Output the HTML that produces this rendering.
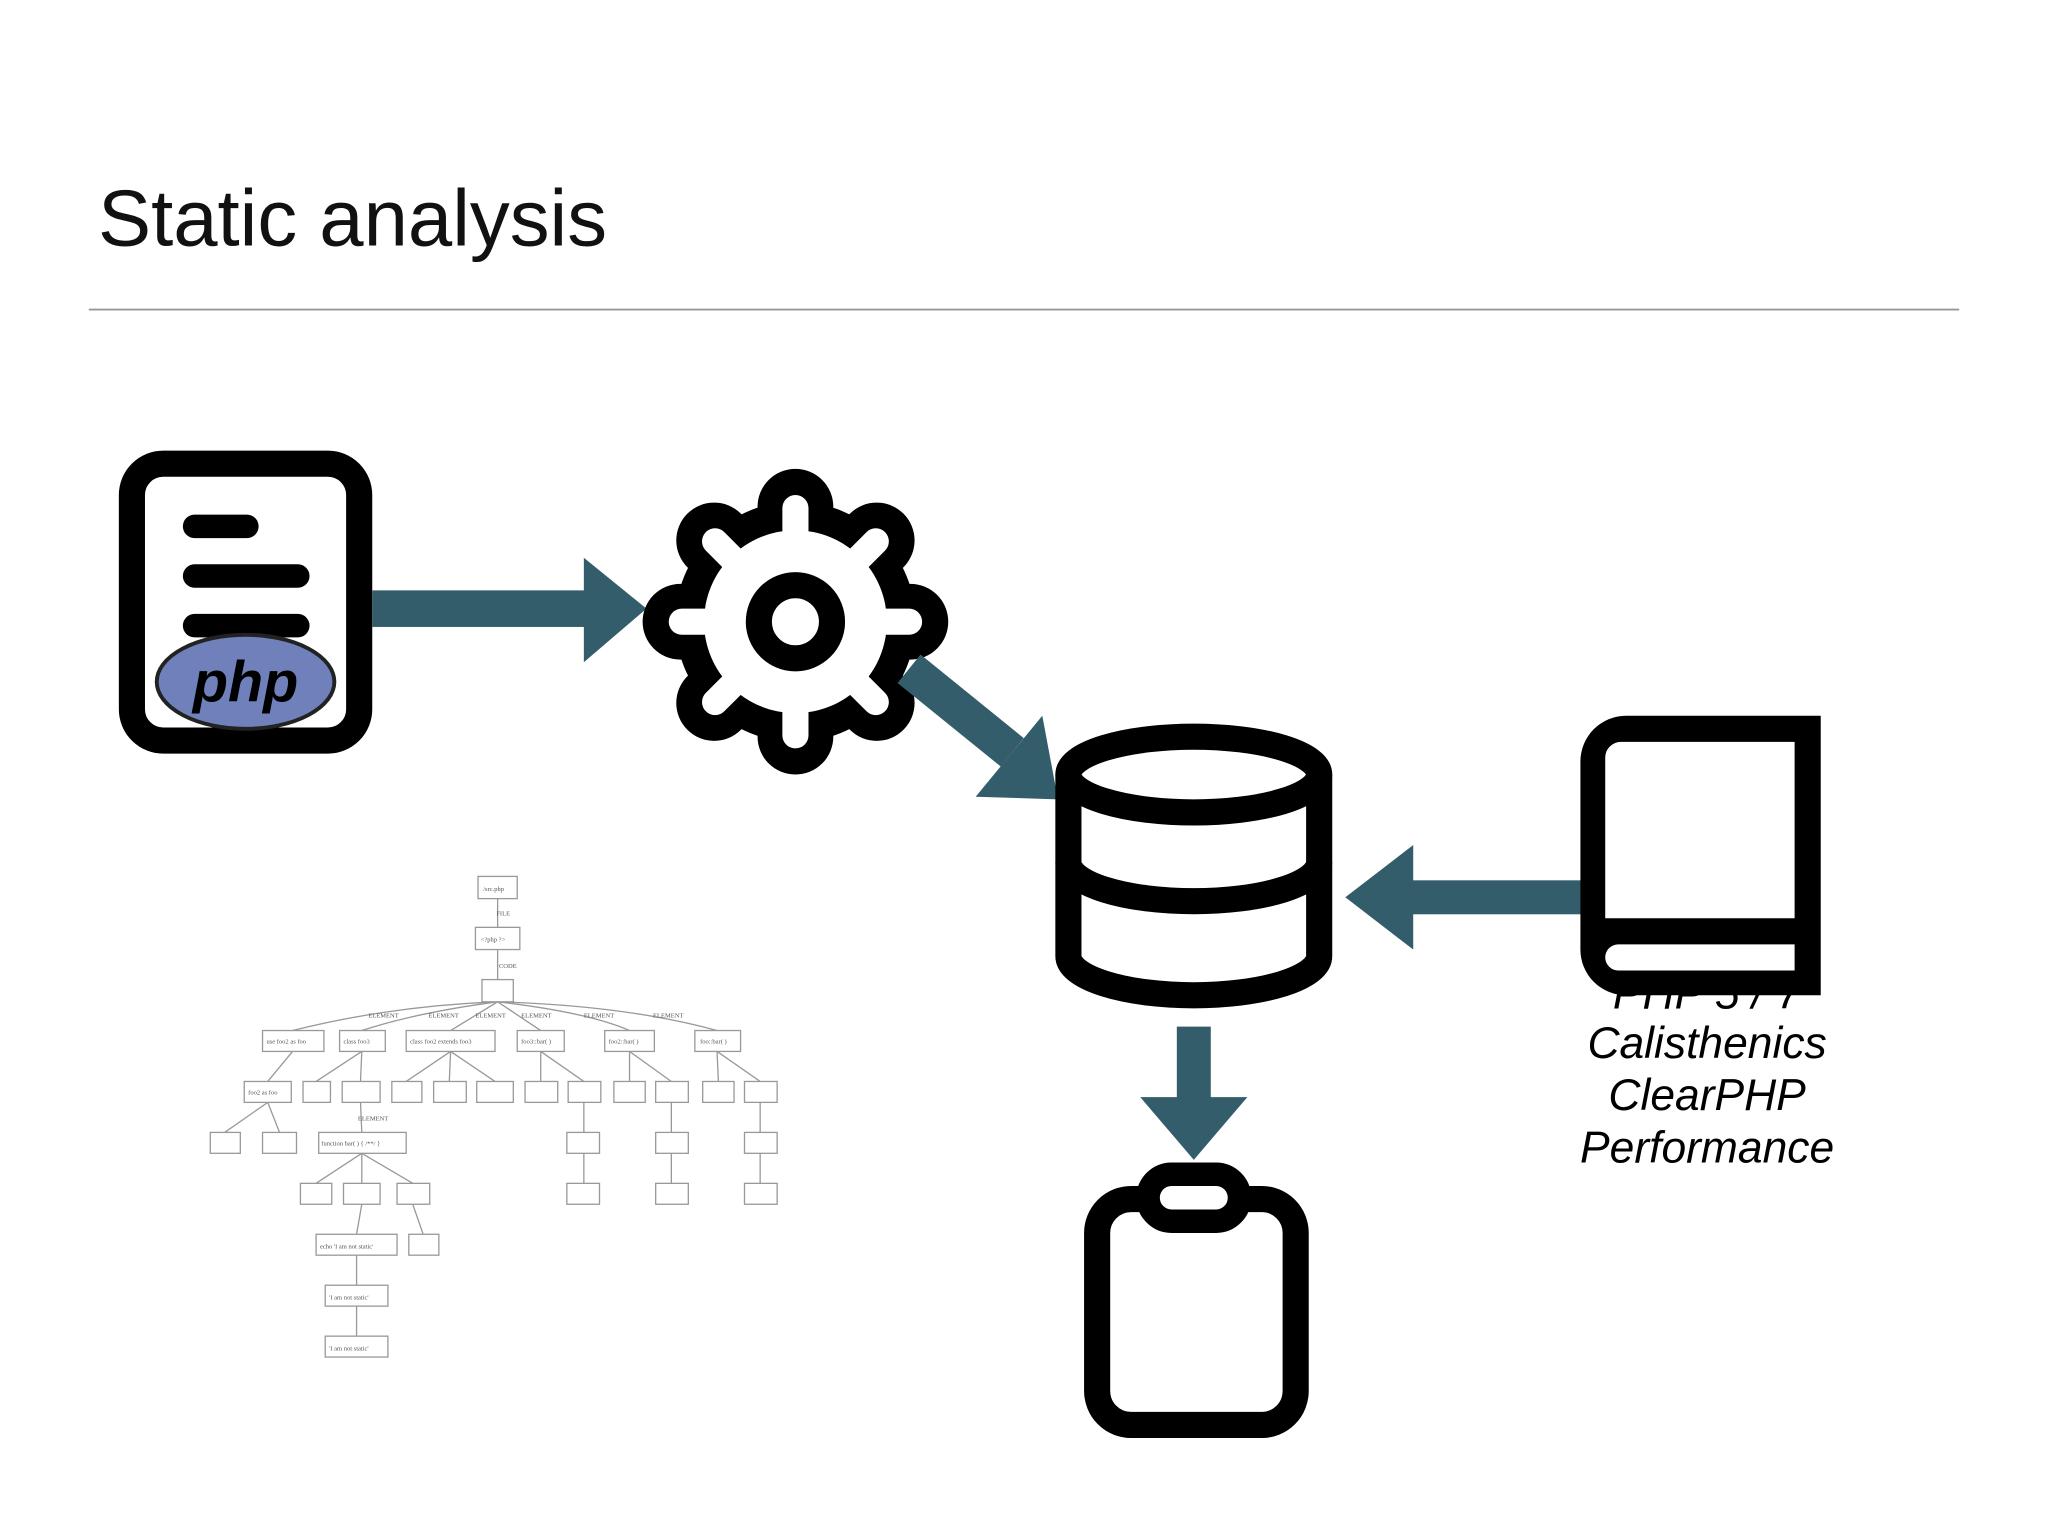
<!DOCTYPE html>
<html><head><meta charset="utf-8"><style>
html,body{margin:0;padding:0;background:#fff;}
svg{display:block;}
</style></head><body>
<svg width="2048" height="1536" viewBox="0 0 1568 1176" xmlns="http://www.w3.org/2000/svg">
<rect width="1568" height="1176" fill="#fff"/>
<text x="75" y="188" font-family="Liberation Sans, sans-serif" font-size="61" fill="#111">Static analysis</text>
<line x1="68" y1="237" x2="1500" y2="237" stroke="#999" stroke-width="1.5"/>

<!-- doc icon -->
<rect x="101" y="355" width="174" height="212" rx="24" fill="#fff" stroke="#000" stroke-width="20"/>
<line x1="149" y1="403" x2="189" y2="403" stroke="#000" stroke-width="18" stroke-linecap="round"/>
<line x1="149" y1="441" x2="228" y2="441" stroke="#000" stroke-width="18" stroke-linecap="round"/>
<line x1="149" y1="479" x2="228" y2="479" stroke="#000" stroke-width="18" stroke-linecap="round"/>
<ellipse cx="188" cy="522" rx="68" ry="36" fill="#6f80ba" stroke="#222" stroke-width="3"/>
<text x="188" y="537" text-anchor="middle" font-family="Liberation Sans, sans-serif" font-size="44" font-weight="bold" font-style="italic" fill="#000">php</text>

<!-- arrow 1 -->
<rect x="285" y="452" width="164" height="28" fill="#335d6a"/>
<polygon points="447,427 447,507 495,466" fill="#335d6a"/>

<!-- gear -->
<g transform="translate(609,476)">
  <g fill="#000">
    <circle r="92"/>
    <g id="teeth">
      <rect x="-29" y="-117" width="58" height="60" rx="29"/>
    </g>
    <use href="#teeth" transform="rotate(45)"/>
    <use href="#teeth" transform="rotate(90)"/>
    <use href="#teeth" transform="rotate(135)"/>
    <use href="#teeth" transform="rotate(180)"/>
    <use href="#teeth" transform="rotate(225)"/>
    <use href="#teeth" transform="rotate(270)"/>
    <use href="#teeth" transform="rotate(315)"/>
  </g>
  <g fill="#fff">
    <circle r="70"/>
    <g id="wt"><rect x="-10" y="-97" width="20" height="40" rx="10"/></g>
    <use href="#wt" transform="rotate(45)"/>
    <use href="#wt" transform="rotate(90)"/>
    <use href="#wt" transform="rotate(135)"/>
    <use href="#wt" transform="rotate(180)"/>
    <use href="#wt" transform="rotate(225)"/>
    <use href="#wt" transform="rotate(270)"/>
    <use href="#wt" transform="rotate(315)"/>
  </g>
  <circle r="28" fill="#fff" stroke="#000" stroke-width="20"/>
</g>

<!-- arrow 2 -->
<line x1="696" y1="512" x2="775" y2="576" stroke="#335d6a" stroke-width="28"/>
<polygon points="798,548 747,610 810,612" fill="#335d6a"/>

<!-- database -->
<g fill="none" stroke="#000" stroke-width="20">
  <path d="M818,593 L818,732 A96,30 0 0 0 1010,732 L1010,593" fill="#fff"/>
  <ellipse cx="914" cy="593" rx="96" ry="29" fill="#fff"/>
  <path d="M818,660 A96,30 0 0 0 1010,660"/>
</g>

<!-- arrow 3 -->
<rect x="1080" y="674" width="132" height="26" fill="#335d6a"/>
<polygon points="1030,687 1082,647 1082,727" fill="#335d6a"/>

<!-- book text -->
<g font-family="Liberation Sans, sans-serif" font-size="34" font-style="italic" fill="#000" text-anchor="middle">
  <text x="1307" y="772">PHP 5 / 7</text>
  <text x="1307" y="810">Calisthenics</text>
  <text x="1307" y="850">ClearPHP</text>
  <text x="1307" y="890">Performance</text>
</g>
<!-- book -->
<path d="M1394,548 L1394,762 L1245,762 A35,35 0 0 1 1210,727 L1210,583 A35,35 0 0 1 1245,548 Z" fill="#000"/>
<path d="M1374,568 L1374,703 L1229,703 L1229,580 A12,12 0 0 1 1241,568 Z" fill="#fff"/>
<path d="M1374,723 L1374,743 L1239,743 A10,10 0 0 1 1239,723 Z" fill="#fff"/>

<!-- arrow 4 -->
<rect x="901" y="786" width="26" height="56" fill="#335d6a"/>
<polygon points="873,840 955,840 914,888" fill="#335d6a"/>

<!-- clipboard -->
<rect x="840" y="918" width="152" height="173" rx="26" fill="#fff" stroke="#000" stroke-width="20"/>
<rect x="879" y="899" width="70" height="36" rx="18" fill="#fff" stroke="#000" stroke-width="18"/>

<!-- tree -->
<g stroke="#999" stroke-width="1" fill="none">
  <line x1="381" y1="688" x2="381" y2="710"/>
  <line x1="381" y1="727" x2="381" y2="750"/>
  <path d="M381,767 Q300,770 224,789"/><path d="M381,767 Q320,775 277,789"/>
  <path d="M381,767 L345,789"/><path d="M381,767 L414,789"/>
  <path d="M381,767 Q450,775 482,789"/><path d="M381,767 Q480,770 549,789"/>
  <line x1="224" y1="805" x2="205" y2="828"/>
  <line x1="277" y1="805" x2="242" y2="828"/><line x1="277" y1="805" x2="276" y2="828"/>
  <line x1="345" y1="805" x2="311" y2="828"/><line x1="345" y1="805" x2="344" y2="828"/><line x1="345" y1="805" x2="379" y2="828"/>
  <line x1="414" y1="805" x2="414" y2="828"/><line x1="414" y1="805" x2="447" y2="828"/>
  <line x1="482" y1="805" x2="482" y2="828"/><line x1="482" y1="805" x2="514" y2="828"/>
  <line x1="549" y1="805" x2="550" y2="828"/><line x1="549" y1="805" x2="582" y2="828"/>
  <line x1="205" y1="844" x2="172" y2="867"/><line x1="205" y1="844" x2="214" y2="867"/>
  <line x1="276" y1="844" x2="277" y2="867"/>
  <line x1="447" y1="844" x2="447" y2="867"/><line x1="514" y1="844" x2="514" y2="867"/><line x1="582" y1="844" x2="582" y2="867"/>
  <line x1="277" y1="883" x2="242" y2="906"/><line x1="277" y1="883" x2="277" y2="906"/><line x1="277" y1="883" x2="316" y2="906"/>
  <line x1="447" y1="883" x2="447" y2="906"/><line x1="514" y1="883" x2="514" y2="906"/><line x1="582" y1="883" x2="582" y2="906"/>
  <line x1="277" y1="922" x2="273" y2="945"/><line x1="316" y1="922" x2="324" y2="945"/>
  <line x1="273" y1="961" x2="273" y2="984"/><line x1="273" y1="1000" x2="273" y2="1023"/>
</g>
<g stroke="#999" stroke-width="1" fill="#fff">
  <rect x="366" y="671" width="30" height="17"/><rect x="364" y="710" width="34" height="17"/><rect x="369" y="750" width="24" height="17"/>
  <rect x="201" y="789" width="47" height="16"/><rect x="260" y="789" width="35" height="16"/><rect x="311" y="789" width="68" height="16"/>
  <rect x="396" y="789" width="36" height="16"/><rect x="463" y="789" width="38" height="16"/><rect x="532" y="789" width="35" height="16"/>
  <rect x="187" y="828" width="36" height="16"/><rect x="232" y="828" width="21" height="16"/><rect x="262" y="828" width="29" height="16"/>
  <rect x="300" y="828" width="23" height="16"/><rect x="332" y="828" width="25" height="16"/><rect x="365" y="828" width="28" height="16"/>
  <rect x="402" y="828" width="25" height="16"/><rect x="435" y="828" width="25" height="16"/><rect x="470" y="828" width="24" height="16"/>
  <rect x="502" y="828" width="25" height="16"/><rect x="538" y="828" width="24" height="16"/><rect x="570" y="828" width="25" height="16"/>
  <rect x="161" y="867" width="23" height="16"/><rect x="201" y="867" width="26" height="16"/><rect x="244" y="867" width="67" height="16"/>
  <rect x="434" y="867" width="25" height="16"/><rect x="502" y="867" width="25" height="16"/><rect x="570" y="867" width="25" height="16"/>
  <rect x="230" y="906" width="24" height="16"/><rect x="263" y="906" width="28" height="16"/><rect x="304" y="906" width="25" height="16"/>
  <rect x="434" y="906" width="25" height="16"/><rect x="502" y="906" width="25" height="16"/><rect x="570" y="906" width="25" height="16"/>
  <rect x="242" y="945" width="62" height="16"/><rect x="313" y="945" width="23" height="16"/>
  <rect x="249" y="984" width="48" height="16"/><rect x="249" y="1023" width="48" height="16"/>
</g>
<g font-family="Liberation Serif, serif" font-size="5" fill="#555">
  <text x="370" y="682">/src.php</text><text x="380" y="701">FILE</text><text x="368" y="721">&lt;?php ?&gt;</text><text x="382" y="741">CODE</text>
  <text x="282" y="779">ELEMENT</text><text x="328" y="779">ELEMENT</text><text x="364" y="779">ELEMENT</text><text x="399" y="779">ELEMENT</text><text x="447" y="779">ELEMENT</text><text x="500" y="779">ELEMENT</text>
  <text x="204" y="799">use foo2 as foo</text><text x="263" y="799">class foo3</text><text x="314" y="799">class foo2 extends foo3</text><text x="399" y="799">foo3::bar( )</text><text x="466" y="799">foo2::bar( )</text><text x="536" y="799">foo::bar( )</text>
  <text x="190" y="838">foo2 as foo</text><text x="274" y="858">ELEMENT</text><text x="246" y="877">function bar( ) { /**/ }</text>
  <text x="245" y="956">echo 'I am not static'</text><text x="252" y="995">'I am not static'</text><text x="252" y="1034">'I am not static'</text>
</g>
</svg>
</body></html>
